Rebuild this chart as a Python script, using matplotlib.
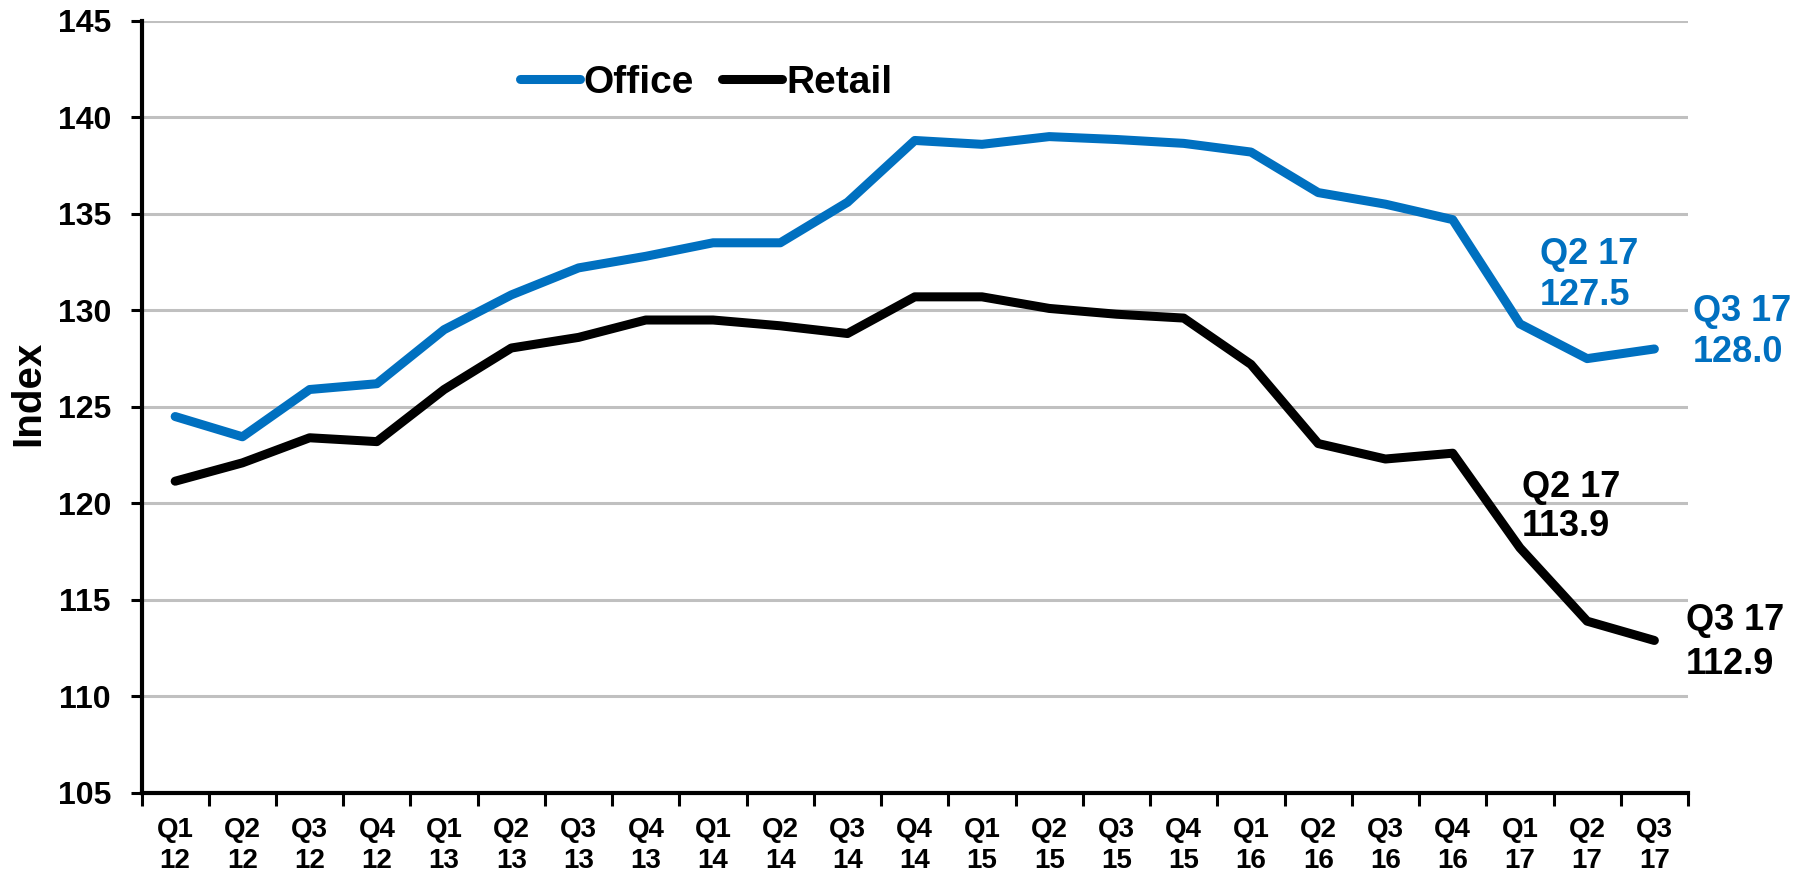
import numpy as np
import matplotlib
matplotlib.use('Agg')
import matplotlib.pyplot as plt

plt.rcParams['font.family'] = ['Liberation Sans', 'DejaVu Sans']
plt.rcParams['font.weight'] = 'bold'

quarters = ['Q1\n12', 'Q2\n12', 'Q3\n12', 'Q4\n12',
            'Q1\n13', 'Q2\n13', 'Q3\n13', 'Q4\n13',
            'Q1\n14', 'Q2\n14', 'Q3\n14', 'Q4\n14',
            'Q1\n15', 'Q2\n15', 'Q3\n15', 'Q4\n15',
            'Q1\n16', 'Q2\n16', 'Q3\n16', 'Q4\n16',
            'Q1\n17', 'Q2\n17', 'Q3\n17']
office = [124.5, 123.45, 125.9, 126.2, 129.0, 130.8, 132.2, 132.8, 133.5, 133.5,
          135.6, 138.8, 138.6, 139.0, 138.85, 138.65, 138.2, 136.1, 135.5, 134.7,
          129.3, 127.5, 128.0]
retail = [121.15, 122.1, 123.4, 123.2, 125.9, 128.05, 128.6, 129.5, 129.5, 129.2,
          128.8, 130.7, 130.7, 130.1, 129.8, 129.6, 127.2, 123.1, 122.3, 122.6,
          117.7, 113.9, 112.9]

BLUE = '#0070C0'

fig = plt.figure(figsize=(18.10, 8.88), dpi=100)
ax = fig.add_axes([0.0782, 0.107, 0.8544, 0.8696])

x = np.arange(len(quarters))
ax.plot(x, office, color=BLUE, lw=6.5, label='Office', solid_capstyle='round')
ax.plot(x, retail, color='black', lw=6.5, label='Retail', solid_capstyle='round')

ax.set_xlim(-0.5, len(quarters) - 0.5)
ax.set_ylim(105, 145)
ax.set_yticks(np.arange(105, 146, 5))
ax.yaxis.grid(True, color='#C0C0C0', lw=2.2)
ax.set_axisbelow(True)

# ticks at category boundaries, labels at centres
ax.set_xticks(np.arange(-0.5, len(quarters)))
ax.set_xticklabels([])
ax.set_xticks(x, minor=True)
ax.set_xticklabels(quarters, minor=True, fontsize=20, fontweight='bold',
                   linespacing=1.25)
ax.tick_params(axis='x', which='minor', length=0, pad=17)
ax.tick_params(axis='x', which='major', length=9, width=2.2, direction='out')
ax.tick_params(axis='y', length=8, width=2.2, labelsize=23, pad=14)
for lab in ax.get_yticklabels():
    lab.set_fontweight('bold')

for s in ('top', 'right'):
    ax.spines[s].set_visible(False)
for s in ('left', 'bottom'):
    ax.spines[s].set_linewidth(3)

ax.set_ylabel('Index', fontsize=29, fontweight='bold', va='center')
ax.yaxis.set_label_coords(-0.0734, 0.518)

ax.legend(loc='center left', bbox_to_anchor=(520 / 1810, 1 - 82.7 / 888),
          bbox_transform=fig.transFigure, borderaxespad=0, borderpad=0,
          ncol=2, frameon=False, handlelength=1.54, handletextpad=0.1,
          columnspacing=0.72, prop={'size': 28, 'weight': 'bold'})

# end-point annotations
ax.text(20.30, 131.84, 'Q2 17\n127.5', color=BLUE, fontsize=26, fontweight='bold',
        ha='left', va='center', linespacing=1.22)
ax.text(22.57, 128.87, 'Q3 17\n128.0', color=BLUE, fontsize=26, fontweight='bold',
        ha='left', va='center', linespacing=1.22, clip_on=False)
ax.text(20.03, 119.8, 'Q2 17\n113.9', color='black', fontsize=26, fontweight='bold',
        ha='left', va='center', linespacing=1.16)
ax.text(22.47, 112.8, 'Q3 17\n112.9', color='black', fontsize=26, fontweight='bold',
        ha='left', va='center', linespacing=1.32, clip_on=False)

fig.savefig('out.png', dpi=100)
